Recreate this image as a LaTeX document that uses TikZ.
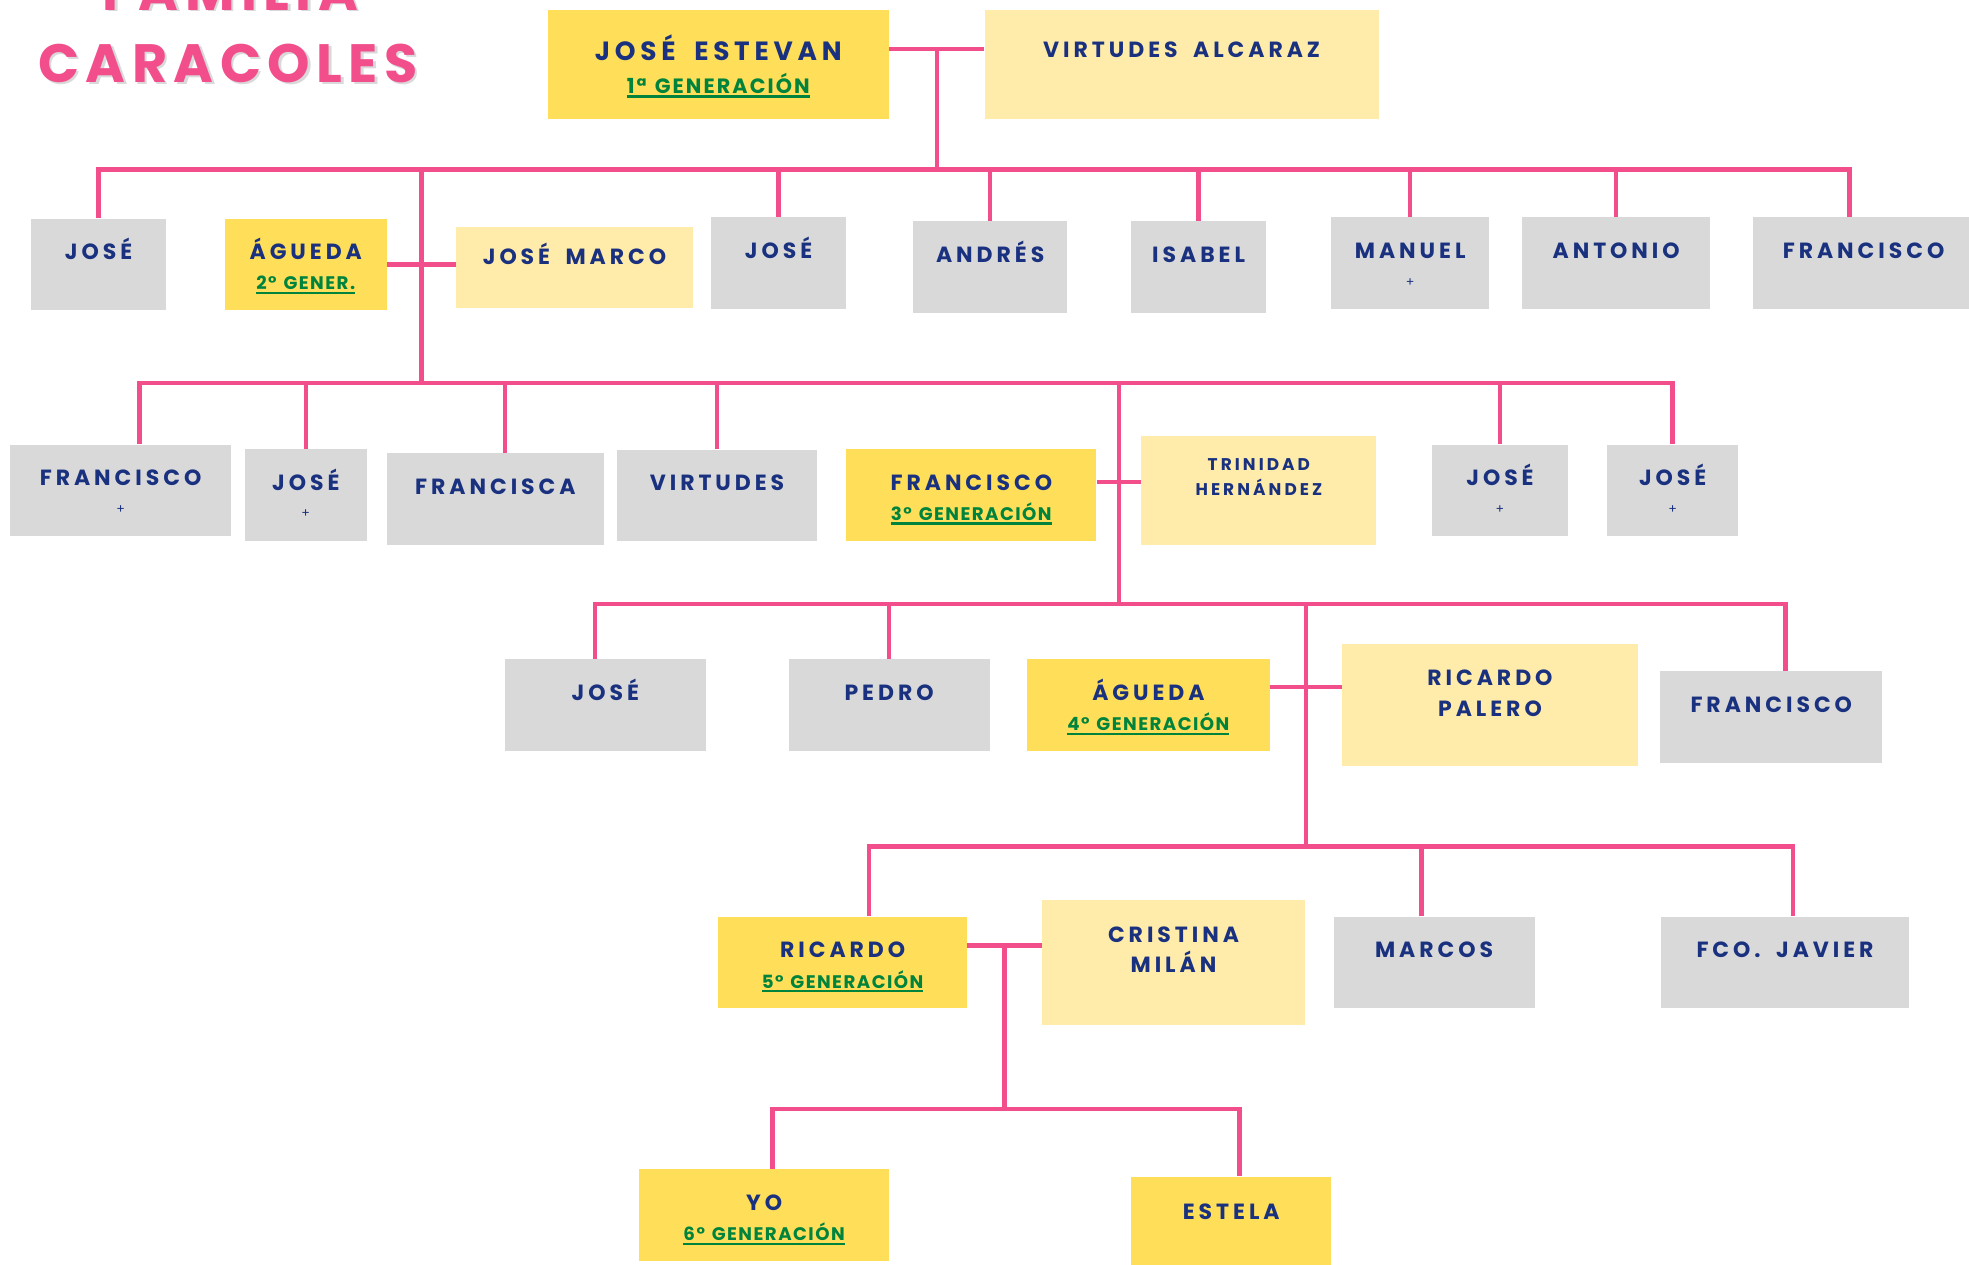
\documentclass[tikz,border=0pt]{standalone}
\usepackage{fontspec}
\setmainfont{Poppins}
\newfontfamily\nombrefont[LetterSpace=18,WordSpace=1.8]{Poppins}
\newfontfamily\genfont[LetterSpace=10,WordSpace=1.3]{Poppins}
\newfontfamily\genchicofont[LetterSpace=8,WordSpace=1.3]{Poppins}
\newfontfamily\titulofont[LetterSpace=12]{Poppins}
\usetikzlibrary{positioning}

\definecolor{rosa}{HTML}{F24E8B}
\definecolor{oro}{HTML}{FFDE59}
\definecolor{crema}{HTML}{FFECAA}
\definecolor{gris}{HTML}{D9D9D9}
\definecolor{marino}{HTML}{19317F}
\definecolor{verde}{HTML}{00833C}

% subrayado grueso para la generacion
\newcommand\subrayado[1]{\setbox0\hbox{#1}\rlap{\rule[-3.5pt]{\wd0}{1.8pt}}\box0}

\begin{document}
\begin{tikzpicture}[x=1pt, y=-1pt,
    caja/.style={rectangle, inner sep=0pt, minimum height=73pt},
    cgris/.style={caja, fill=gris},
    coro/.style={caja, fill=oro},
    ccrema/.style={caja, fill=crema},
    nom/.style={anchor=base, inner sep=0pt, text=marino,
        font=\nombrefont\bfseries\fontsize{17.5}{21}\selectfont},
    nomchico/.style={nom, font=\nombrefont\bfseries\fontsize{13.5}{16}\selectfont},
    nomgrande/.style={nom, font=\nombrefont\bfseries\fontsize{21}{25}\selectfont},
    gen/.style={anchor=base, inner sep=0pt, text=verde,
        font=\genchicofont\bfseries\fontsize{14.5}{17}\selectfont},
    gengrande/.style={gen, font=\genfont\bfseries\fontsize{16.5}{19}\selectfont},
    cruz/.style={inner sep=0pt, text=marino, font=\fontsize{10}{12}\selectfont},
    titulo/.style={anchor=base, inner sep=0pt, text=rosa,
        font=\titulofont\bfseries\fontsize{43}{50}\selectfont},
    rama/.style={draw=rosa, line width=3.6pt}]

    \useasboundingbox (0,0) rectangle (1568,1007);

    % titulo
    \node[titulo, text=black!15] (familiasombra) at (185.5,9.5) {FAMILIA};
    \node[titulo, text=black!15] (caracolessombra) at (183.5,67.5) {CARACOLES};
    \node[titulo] (familia) at (183.5,8) {FAMILIA};
    \node[titulo] (caracoles) at (181.5,66) {CARACOLES};

    % 1a generacion
    \node[coro, minimum width=272pt, minimum height=87pt] (estevan) at (572,51.5) {};
    \node[nomgrande] (testevan) at ([yshift=-40.5pt]estevan.north) {JOSÉ ESTEVAN};
    \node[gengrande] (gestevan) at ([yshift=-66.5pt]estevan.north) {\subrayado{1ª GENERACIÓN}};
    \node[ccrema, minimum width=314pt, minimum height=87pt] (alcaraz) at (941,51.5) {};
    \node[nom] (talcaraz) at ([yshift=-38pt]alcaraz.north) {VIRTUDES ALCARAZ};

    % hermanos sin descendencia en el arbol
    \foreach \n/\x/\y/\w/\t in {jose1/78.5/210.5/107/JOSÉ, jose2/620/209.5/108/JOSÉ,
        andres/788.5/212.5/123/ANDRÉS, isabel/954.5/212.5/107/ISABEL,
        manuel/1123/209.5/126/MANUEL, antonio/1287/209.5/150/ANTONIO,
        fran1/1484/209.5/176/FRANCISCO, fran2/96/390.5/176/FRANCISCO,
        jose3/243.5/394/97/JOSÉ, francisca/394.5/397.5/173/FRANCISCA,
        virtudes/571/394.5/160/VIRTUDES, jose4/1194.5/390.5/109/JOSÉ,
        jose5/1332/390.5/104/JOSÉ, jose6/482/561.5/160/JOSÉ,
        pedro/708/561.5/160/PEDRO, fran4/1410.5/571/177/FRANCISCO,
        marcos/1142/766.5/160/MARCOS, javier/1421.5/766.5/197/FCO. JAVIER} {
        \node[cgris, minimum width=\w pt] (\n) at (\x,\y) {};
        \node[nom] (t\n) at ([yshift=-33pt]\n.north) {\t};
    }
    \foreach \n in {manuel, fran2, jose3, jose4, jose5}
        \node[cruz] (c\n) at ([yshift=-52pt]\n.north) {+};

    % linea directa
    \foreach \n/\x/\y/\w/\t/\g in {agueda/243.5/210.5/129/ÁGUEDA/2° GENER.,
        fran3/773.5/394/199/FRANCISCO/3° GENERACIÓN,
        agueda4/914.5/561.5/193/ÁGUEDA/4° GENERACIÓN,
        ricardo/671/766.5/198/RICARDO/5° GENERACIÓN,
        yo/608.5/967.5/199/YO/6° GENERACIÓN} {
        \node[coro, minimum width=\w pt] (\n) at (\x,\y) {};
        \node[nom] (t\n) at ([yshift=-33pt]\n.north) {\t};
        \node[gen] (g\n) at ([yshift=-57pt]\n.north) {\subrayado{\g}};
    }
    \node[coro, minimum width=159pt, minimum height=70pt] (estela) at (980.5,972) {};
    \node[nom] (testela) at ([yshift=-34pt]estela.north) {ESTELA};

    % parejas
    \node[ccrema, minimum width=189pt, minimum height=64pt] (jmarco) at (457.5,213) {};
    \node[nom] (tjmarco) at ([yshift=-30pt]jmarco.north) {JOSÉ MARCO};
    \node[ccrema, minimum width=187pt, minimum height=87pt] (trinidad) at (1002.5,390.5) {};
    \node[nomchico] (ttrinidad) at ([yshift=-28pt]trinidad.north) {TRINIDAD};
    \node[nomchico] (ttrinidad2) at ([yshift=-48pt]trinidad.north) {HERNÁNDEZ};
    \node[ccrema, minimum width=235pt, minimum height=97pt] (palero) at (1186.5,561.5) {};
    \node[nom] (tpalero) at ([yshift=-33pt]palero.north) {RICARDO};
    \node[nom] (tpalero2) at ([yshift=-58pt]palero.north) {PALERO};
    \node[ccrema, minimum width=209pt, minimum height=99pt] (cristina) at (934.5,766.5) {};
    \node[nom] (tcristina) at ([yshift=-34pt]cristina.north) {CRISTINA};
    \node[nom] (tcristina2) at ([yshift=-58pt]cristina.north) {MILÁN};

    % barras de cada generacion
    \coordinate (b1) at (0,135);
    \coordinate (b2) at (0,305);
    \coordinate (b3) at (0,481);
    \coordinate (b4) at (0,674);
    \coordinate (b5) at (0,883);

    % ramas
    \draw[rama] ([yshift=12.5pt]estevan.east) -- ([yshift=12.5pt]estevan.east -| alcaraz.west)
        coordinate[midway] (u0);
    \draw[rama] (u0) -- (u0 |- b1);
    \draw[rama] (jose1.north) |- ([xshift=-11pt]fran1.north |- b1) -- ([xshift=-11pt]fran1.north);
    \foreach \n in {jose2, andres, isabel, manuel, antonio}
        \draw[rama] (\n.north) -- (\n.north |- b1);

    \draw[rama] (agueda.east) -- (agueda.east -| jmarco.west) coordinate[midway] (u1);
    \draw[rama] (u1 |- b1) -- (u1 |- b2);
    \draw[rama] ([xshift=15pt]fran2.north) |- (jose5.north |- b2) -- (jose5.north);
    \foreach \n/\d in {jose3/0, francisca/7.5, virtudes/0, jose4/0}
        \draw[rama] ([xshift=\d pt]\n.north) -- ([xshift=\d pt]\n.north |- b2);

    \draw[rama] ([yshift=10pt]fran3.east) -- ([yshift=10pt]fran3.east -| trinidad.west)
        coordinate[midway] (u2);
    \draw[rama] (u2 |- b2) -- (u2 |- b3);
    \draw[rama] ([xshift=-8pt]jose6.north) |- ([xshift=11.5pt]fran4.north |- b3)
        -- ([xshift=11.5pt]fran4.north);
    \draw[rama] (pedro.north) -- (pedro.north |- b3);

    \draw[rama] ([yshift=14.5pt]agueda4.east) -- ([yshift=14.5pt]agueda4.east -| palero.west)
        coordinate[midway] (u3);
    \draw[rama] (u3 |- b3) -- (u3 |- b4);
    \draw[rama] ([xshift=21pt]ricardo.north) |- ([xshift=6.5pt]javier.north |- b4)
        -- ([xshift=6.5pt]javier.north);
    \draw[rama] ([xshift=-10pt]marcos.north) -- ([xshift=-10pt]marcos.north |- b4);

    \draw[rama] ([yshift=13.5pt]ricardo.east) -- ([yshift=13.5pt]ricardo.east -| cristina.west)
        coordinate[midway] (u4);
    \draw[rama] (u4) -- (u4 |- b5);
    \draw[rama] ([xshift=6.5pt]yo.north) |- ([xshift=6.5pt]estela.north |- b5)
        -- ([xshift=6.5pt]estela.north);
\end{tikzpicture}
\end{document}
